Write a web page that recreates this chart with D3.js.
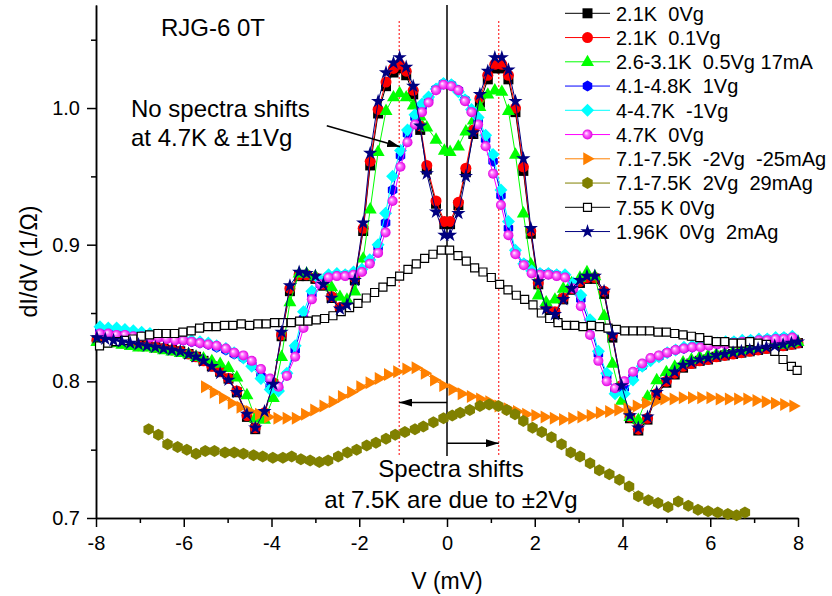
<!DOCTYPE html>
<html lang="en">
<head>
<meta charset="utf-8">
<script src="https://d3js.org/d3.v7.min.js"></script>
<style type="text/css">

body {
	margin: 0;
	background-color: #ffffff;
}

svg text {
	font-family: "Liberation Sans", Arial, sans-serif;
	fill: #000;
	white-space: pre;
}

.axis path, .axis line {
	fill: none;
	stroke: #000;
	stroke-width: 1.5px;
}

.axis text {
	font-size: 20px;
}

</style>
</head>
<body>
<script type="text/javascript">

// ---- data ----

// low temperature curves (2.1K, 2.6-3.1K, 1.96K) share one bias grid
var vMain = [-7.98, -7.79, -7.6, -7.41, -7.22, -7.03, -6.84, -6.65, -6.46, -6.27, -6.08, -5.89, -5.72, -5.55, -5.36, -5.17,
  -4.98, -4.79, -4.56, -4.37, -4.16, -3.96, -3.77, -3.58, -3.37, -3.2,
  -3.0, -2.82, -2.63, -2.44, -2.28, -2.1, -1.91, -1.75, -1.57, -1.39,
  -1.22, -1.08, -0.93, -0.77, -0.61, -0.46, -0.25, -0.06,
  0.07, 0.26, 0.43, 0.6, 0.75, 0.93, 1.09, 1.25, 1.4, 1.56,
  1.74, 1.91, 2.08, 2.26, 2.46, 2.65, 2.84, 3.03, 3.19, 3.37,
  3.58, 3.77, 3.98, 4.17, 4.36, 4.57, 4.78, 5.0, 5.19, 5.38,
  5.57, 5.76, 5.95, 6.14, 6.33, 6.52, 6.71, 6.9, 7.09, 7.28, 7.47, 7.66, 7.85, 8.0];

var gBlack = [0.830, 0.829, 0.829, 0.828, 0.827, 0.826, 0.826, 0.825, 0.824, 0.823, 0.822, 0.820, 0.818, 0.815, 0.811, 0.807,
  0.802, 0.792, 0.774, 0.765, 0.776, 0.798, 0.833, 0.866, 0.877, 0.877,
  0.875, 0.870, 0.861, 0.852, 0.855, 0.874, 0.910, 0.958, 0.996, 1.016,
  1.026, 1.029, 1.024, 1.010, 0.984, 0.955, 0.930, 0.915,
  0.915, 0.929, 0.953, 0.981, 1.004, 1.021, 1.029, 1.029, 1.021, 0.997,
  0.954, 0.908, 0.871, 0.853, 0.850, 0.860, 0.867, 0.872, 0.875, 0.875,
  0.864, 0.832, 0.796, 0.773, 0.764, 0.772, 0.790, 0.799, 0.805, 0.810,
  0.813, 0.815, 0.816, 0.818, 0.819, 0.820, 0.821, 0.822, 0.823, 0.824, 0.825, 0.826, 0.827, 0.828];

var gRed = [0.830, 0.829, 0.829, 0.828, 0.827, 0.826, 0.826, 0.825, 0.824, 0.823, 0.822, 0.820, 0.818, 0.815, 0.811, 0.807,
  0.802, 0.793, 0.775, 0.766, 0.777, 0.799, 0.834, 0.868, 0.878, 0.878,
  0.876, 0.871, 0.862, 0.854, 0.857, 0.876, 0.912, 0.961, 0.999, 1.019,
  1.029, 1.032, 1.027, 1.013, 0.987, 0.958, 0.932, 0.917,
  0.917, 0.931, 0.956, 0.984, 1.007, 1.024, 1.032, 1.032, 1.024, 1.000,
  0.957, 0.910, 0.872, 0.854, 0.851, 0.861, 0.868, 0.873, 0.876, 0.876,
  0.866, 0.834, 0.797, 0.774, 0.765, 0.773, 0.791, 0.800, 0.806, 0.811,
  0.813, 0.815, 0.816, 0.818, 0.819, 0.820, 0.821, 0.822, 0.823, 0.824, 0.825, 0.826, 0.827, 0.828];

var gGreen = [0.829, 0.828, 0.828, 0.827, 0.826, 0.825, 0.825, 0.824, 0.823, 0.822, 0.821, 0.820, 0.818, 0.817, 0.815, 0.813,
  0.810, 0.803, 0.790, 0.773, 0.772, 0.788, 0.818, 0.858, 0.879, 0.879,
  0.877, 0.873, 0.869, 0.862, 0.860, 0.866, 0.890, 0.926, 0.968, 0.998,
  1.008, 1.011, 1.008, 1.002, 0.994, 0.986, 0.977, 0.969,
  0.968, 0.972, 0.983, 0.991, 1.001, 1.010, 1.013, 1.012, 0.998, 0.966,
  0.923, 0.886, 0.863, 0.858, 0.860, 0.868, 0.872, 0.876, 0.880, 0.877,
  0.848, 0.813, 0.786, 0.774, 0.772, 0.789, 0.801, 0.807, 0.811, 0.814,
  0.816, 0.818, 0.819, 0.820, 0.821, 0.822, 0.823, 0.824, 0.825, 0.826, 0.827, 0.827, 0.828, 0.829];

var gStar = [0.832, 0.831, 0.830, 0.829, 0.828, 0.827, 0.826, 0.825, 0.824, 0.823, 0.822, 0.820, 0.818, 0.815, 0.811, 0.806,
  0.801, 0.792, 0.776, 0.766, 0.778, 0.798, 0.836, 0.870, 0.880, 0.879,
  0.877, 0.871, 0.861, 0.853, 0.856, 0.874, 0.916, 0.967, 1.005, 1.026,
  1.033, 1.037, 1.030, 1.016, 0.987, 0.952, 0.924, 0.907,
  0.907, 0.923, 0.950, 0.982, 1.010, 1.027, 1.037, 1.037, 1.028, 1.005,
  0.963, 0.912, 0.873, 0.853, 0.849, 0.860, 0.868, 0.874, 0.877, 0.877,
  0.866, 0.834, 0.797, 0.775, 0.766, 0.774, 0.792, 0.801, 0.807, 0.812,
  0.814, 0.816, 0.817, 0.819, 0.820, 0.821, 0.822, 0.823, 0.824, 0.825, 0.826, 0.827, 0.828, 0.829];

// ~4.7K curves (single zero-bias peak)
var vMid = [-7.91, -7.72, -7.53, -7.34, -7.15, -6.96, -6.77, -6.58, -6.39, -6.2, -6.01, -5.82, -5.63, -5.44, -5.25,
  -5.04, -4.85, -4.64, -4.45, -4.24, -4.03, -3.84, -3.65, -3.46, -3.27, -3.08, -2.89, -2.7, -2.51, -2.32, -2.13,
  -1.94, -1.76, -1.57, -1.4, -1.24, -1.06, -0.9, -0.73, -0.57, -0.42, -0.25, -0.08,
  0.1, 0.26, 0.41, 0.56, 0.71, 0.88, 1.05, 1.23, 1.4, 1.56,
  1.75, 1.93, 2.12, 2.31, 2.5, 2.69, 2.88, 3.05, 3.26, 3.45, 3.64, 3.83, 4.04, 4.24, 4.45, 4.64, 4.83,
  5.02, 5.21, 5.4, 5.59, 5.78, 5.97, 6.16, 6.35, 6.54, 6.73, 6.92, 7.11, 7.3, 7.49, 7.68, 7.87];

var gBlue = [0.838, 0.838, 0.837, 0.837, 0.836, 0.835, 0.834, 0.833, 0.832, 0.831, 0.830, 0.829, 0.828, 0.827, 0.825,
  0.823, 0.820, 0.817, 0.812, 0.804, 0.796, 0.794, 0.805, 0.823, 0.846, 0.864, 0.873, 0.877, 0.878, 0.878, 0.879,
  0.881, 0.888, 0.898, 0.916, 0.940, 0.965, 0.981, 0.993, 1.001, 1.007, 1.014, 1.018,
  1.017, 1.013, 1.006, 0.998, 0.991, 0.977, 0.961, 0.936, 0.912, 0.895,
  0.886, 0.880, 0.879, 0.879, 0.878, 0.877, 0.871, 0.860, 0.841, 0.820, 0.804, 0.793, 0.795, 0.803, 0.811, 0.816, 0.818,
  0.821, 0.823, 0.824, 0.825, 0.826, 0.827, 0.828, 0.828, 0.829, 0.829, 0.830, 0.830, 0.831, 0.831, 0.832, 0.832];

var gCyan = [0.840, 0.839, 0.839, 0.838, 0.837, 0.836, 0.835, 0.834, 0.833, 0.832, 0.831, 0.830, 0.829, 0.828, 0.826,
  0.824, 0.821, 0.817, 0.811, 0.802, 0.794, 0.793, 0.806, 0.826, 0.851, 0.866, 0.874, 0.878, 0.879, 0.878, 0.880,
  0.882, 0.889, 0.900, 0.923, 0.950, 0.969, 0.984, 0.995, 1.003, 1.008, 1.014, 1.018,
  1.017, 1.012, 1.006, 0.999, 0.993, 0.980, 0.966, 0.940, 0.917, 0.896,
  0.886, 0.881, 0.879, 0.879, 0.878, 0.878, 0.872, 0.863, 0.845, 0.822, 0.806, 0.791, 0.791, 0.801, 0.811, 0.815, 0.818,
  0.821, 0.823, 0.825, 0.826, 0.827, 0.827, 0.828, 0.829, 0.829, 0.830, 0.830, 0.831, 0.831, 0.832, 0.832, 0.833];

var gMagenta = [0.835, 0.835, 0.834, 0.834, 0.833, 0.833, 0.832, 0.832, 0.831, 0.830, 0.830, 0.829, 0.828, 0.827, 0.826,
  0.824, 0.821, 0.819, 0.815, 0.809, 0.802, 0.796, 0.804, 0.818, 0.839, 0.860, 0.871, 0.876, 0.877, 0.877, 0.878,
  0.880, 0.886, 0.894, 0.909, 0.932, 0.957, 0.975, 0.988, 0.997, 1.004, 1.013, 1.017,
  1.016, 1.013, 1.005, 0.997, 0.988, 0.972, 0.952, 0.929, 0.907, 0.893,
  0.885, 0.879, 0.878, 0.878, 0.877, 0.876, 0.868, 0.855, 0.834, 0.815, 0.800, 0.795, 0.800, 0.807, 0.813, 0.817, 0.819,
  0.821, 0.823, 0.824, 0.825, 0.825, 0.826, 0.827, 0.827, 0.828, 0.829, 0.829, 0.830, 0.830, 0.831, 0.831, 0.832];

// 7.1-7.5K, -2Vg
var vOrange = [-5.51, -5.31, -5.1, -4.9, -4.7, -4.49, -4.28, -4.07, -3.86, -3.65,
  -3.44, -3.23, -3.02, -2.81, -2.6, -2.39, -2.18, -1.97, -1.76, -1.55,
  -1.34, -1.13, -0.92, -0.71, -0.5, -0.29, -0.08, 0.13, 0.34, 0.55,
  0.76, 0.97, 1.18, 1.39, 1.6, 1.81, 2.02, 2.23, 2.44, 2.65,
  2.86, 3.07, 3.28, 3.49, 3.7, 3.91, 4.12, 4.33, 4.54, 4.75,
  4.96, 5.17, 5.38, 5.59, 5.8, 6.01, 6.22, 6.43, 6.64, 6.85,
  7.06, 7.27, 7.48, 7.69, 7.9];
var gOrange = [0.796, 0.792, 0.788, 0.784, 0.781, 0.778, 0.776, 0.774, 0.773, 0.773,
  0.773, 0.776, 0.779, 0.782, 0.785, 0.789, 0.792, 0.796, 0.799, 0.802,
  0.805, 0.807, 0.809, 0.810, 0.806, 0.801, 0.797, 0.794, 0.791, 0.789,
  0.787, 0.785, 0.782, 0.780, 0.778, 0.776, 0.775, 0.774, 0.773, 0.772,
  0.773, 0.774, 0.775, 0.777, 0.778, 0.779, 0.780, 0.782, 0.784, 0.785,
  0.787, 0.787, 0.788, 0.788, 0.788, 0.788, 0.787, 0.787, 0.787, 0.787,
  0.786, 0.785, 0.784, 0.783, 0.782];

// 7.1-7.5K, 2Vg
var vOlive = [-6.8, -6.58, -6.37, -6.14, -5.93, -5.72, -5.51, -5.3, -5.06, -4.85,
  -4.64, -4.41, -4.2, -3.97, -3.74, -3.54, -3.33, -3.12, -2.91, -2.71,
  -2.48, -2.27, -2.06, -1.83, -1.62, -1.39, -1.18, -0.96, -0.73, -0.54,
  -0.31, -0.08, 0.12, 0.3, 0.52, 0.75, 0.96, 1.17, 1.36, 1.55,
  1.74, 1.95, 2.16, 2.38, 2.61, 2.82, 3.03, 3.26, 3.47, 3.7,
  3.93, 4.15, 4.36, 4.59, 4.81, 5.04, 5.27, 5.5, 5.72, 5.95,
  6.17, 6.4, 6.6, 6.79];
var gOlive = [0.765, 0.761, 0.754, 0.752, 0.750, 0.747, 0.749, 0.749, 0.748, 0.748,
  0.747, 0.746, 0.745, 0.744, 0.744, 0.745, 0.743, 0.742, 0.741, 0.742,
  0.745, 0.748, 0.750, 0.753, 0.755, 0.758, 0.761, 0.763, 0.765, 0.767,
  0.770, 0.773, 0.775, 0.777, 0.779, 0.782, 0.783, 0.782, 0.779, 0.776,
  0.771, 0.766, 0.763, 0.759, 0.754, 0.748, 0.745, 0.740, 0.735, 0.732,
  0.728, 0.723, 0.716, 0.713, 0.711, 0.708, 0.712, 0.709, 0.706, 0.705,
  0.704, 0.703, 0.702, 0.704];

// 7.55K, 0Vg
var vWarm = [-7.92, -7.73, -7.54, -7.35, -7.16, -6.97, -6.78, -6.59, -6.4, -6.21,
  -6.02, -5.83, -5.64, -5.45, -5.26, -5.07, -4.88, -4.69, -4.5, -4.31,
  -4.12, -3.93, -3.74, -3.55, -3.36, -3.17, -2.98, -2.79, -2.6, -2.41,
  -2.22, -2.03, -1.84, -1.65, -1.46, -1.27, -1.08, -0.89, -0.7, -0.51,
  -0.32, -0.13, 0.06, 0.25, 0.44, 0.63, 0.82, 1.01, 1.2, 1.39,
  1.58, 1.77, 1.96, 2.15, 2.34, 2.53, 2.72, 2.91, 3.1, 3.29,
  3.48, 3.67, 3.86, 4.05, 4.24, 4.43, 4.62, 4.81, 5.0, 5.19,
  5.38, 5.57, 5.76, 5.95, 6.14, 6.33, 6.52, 6.71, 6.9, 7.09,
  7.28, 7.47, 7.66, 7.85, 7.98];
var gWarm = [0.826, 0.828, 0.829, 0.830, 0.831, 0.833, 0.834, 0.835, 0.835, 0.835,
  0.836, 0.837, 0.839, 0.840, 0.840, 0.841, 0.841, 0.842, 0.841, 0.842,
  0.842, 0.843, 0.843, 0.843, 0.844, 0.844, 0.845, 0.846, 0.848, 0.851,
  0.854, 0.857, 0.861, 0.865, 0.869, 0.873, 0.877, 0.882, 0.886, 0.890,
  0.893, 0.896, 0.896, 0.892, 0.888, 0.883, 0.880, 0.876, 0.871, 0.867,
  0.863, 0.860, 0.856, 0.850, 0.846, 0.843, 0.841, 0.841, 0.840, 0.841,
  0.840, 0.839, 0.838, 0.837, 0.837, 0.837, 0.837, 0.836, 0.836, 0.835,
  0.834, 0.833, 0.832, 0.830, 0.829, 0.829, 0.828, 0.828, 0.829, 0.828,
  0.827, 0.822, 0.816, 0.811, 0.808];

var legendLabels = ["2.1K  0Vg", "2.1K  0.1Vg", "2.6-3.1K  0.5Vg 17mA", "4.1-4.8K  1Vg", "4-4.7K  -1Vg",
  "4.7K  0Vg", "7.1-7.5K  -2Vg  -25mAg", "7.1-7.5K  2Vg  29mAg", "7.55 K 0Vg", "1.96K  0Vg  2mAg"];

var xMajor = [-8, -6, -4, -2, 0, 2, 4, 6, 8];
var xMinor = [-7, -5, -3, -1, 1, 3, 5, 7];
var yMajor = [0.7, 0.8, 0.9, 1.0];
var yMinor = [0.75, 0.85, 0.95, 1.05];

// annotation anchors (data units)
var shiftMarks = [-1.09, 1.18];

// ---- chart ----

var width = 832;
var height = 596;

var x = d3.scaleLinear().domain([-8, 8]).range([96, 798]);
var y = d3.scaleLinear().domain([0.7, 1.0754]).range([518, 5]);

var series = [
  {v: vMain, g: gBlack,   color: "#000000", shape: "square",   size: 10},
  {v: vMain, g: gRed,     color: "#ff0000", shape: "circle",   size: 11},
  {v: vMain, g: gGreen,   color: "#00ff00", shape: "triUp",    size: 13},
  {v: vMid,  g: gBlue,    color: "#0000ff", shape: "hex",      size: 11},
  {v: vMid,  g: gCyan,    color: "#00ffff", shape: "diamond",  size: 13},
  {v: vMid,  g: gMagenta, color: "#ff00ff", shape: "sphere",   size: 10},
  {v: vOrange, g: gOrange, color: "#ff8000", shape: "triRight", size: 13},
  {v: vOlive,  g: gOlive,  color: "#808000", shape: "hex",      size: 12},
  {v: vWarm,   g: gWarm,   color: "#000000", shape: "open",     size: 8},
  {v: vMain, g: gStar,    color: "#000080", shape: "star",     size: 15}
];

series.forEach(function(s, i) {
  if (s.v.length !== s.g.length) throw new Error("series " + i + ": " + s.v.length + " vs " + s.g.length);
});

function poly(pts) {
  return "M" + pts.map(function(p) { return p[0].toFixed(2) + "," + p[1].toFixed(2); }).join("L") + "Z";
}

// marker outline centred on 0,0; s is the marker width in px
function shapePath(shape, s) {
  var h = s / 2;
  if (shape === "square" || shape === "open") return poly([[-h, -h], [h, -h], [h, h], [-h, h]]);
  if (shape === "circle" || shape === "sphere") return d3.symbol().type(d3.symbolCircle).size(Math.PI * h * h)();
  if (shape === "triUp") return poly([[0, -h * 1.1], [h, h * 0.65], [-h, h * 0.65]]);
  if (shape === "triRight") return poly([[h * 1.1, 0], [-h * 0.65, -h], [-h * 0.65, h]]);
  if (shape === "diamond") return poly([[0, -h], [h, 0], [0, h], [-h, 0]]);
  if (shape === "hex") {
    var pts = [];
    for (var k = 0; k < 6; k++) {
      var a = Math.PI / 180 * (60 * k - 90);
      pts.push([h * Math.cos(a), h * Math.sin(a)]);
    }
    return poly(pts);
  }
  if (shape === "star") return d3.symbol().type(d3.symbolStar).size(h * h / 0.8908)();
}

function drawMarker(sel, s) {
  sel.attr("d", shapePath(s.shape, s.size))
    .attr("fill", function() {
      if (s.shape === "open") return "#ffffff";
      if (s.shape === "sphere") return "url(#sphere)";
      return s.color;
    })
    .attr("stroke", s.shape === "open" ? "#000" : "none")
    .attr("stroke-width", 1.2);
}

var svg = d3.select("body")
  .append("svg")
  .attr("width", width)
  .attr("height", height);

var defs = svg.append("defs");

var grad = defs.append("radialGradient")
  .attr("id", "sphere")
  .attr("cx", "50%").attr("cy", "50%").attr("r", "50%")
  .attr("fx", "35%").attr("fy", "35%");
grad.append("stop").attr("offset", "0%").attr("stop-color", "#ffffff");
grad.append("stop").attr("offset", "40%").attr("stop-color", "#ff70ff");
grad.append("stop").attr("offset", "100%").attr("stop-color", "#e000e0");

defs.append("marker")
  .attr("id", "arrowHead")
  .attr("markerUnits", "userSpaceOnUse")
  .attr("viewBox", "0 0 13 8")
  .attr("refX", 13).attr("refY", 4)
  .attr("markerWidth", 13).attr("markerHeight", 8)
  .attr("orient", "auto")
  .append("path")
  .attr("d", "M0,0L13,4L0,8Z")
  .attr("fill", "#000");

// axes
svg.append("g")
  .attr("class", "x axis")
  .attr("transform", "translate(0," + y(0.7) + ")")
  .call(d3.axisBottom(x).tickValues(xMinor).tickSize(5).tickSizeOuter(0).tickFormat(""));

svg.append("g")
  .attr("class", "x axis")
  .attr("transform", "translate(0," + y(0.7) + ")")
  .call(d3.axisBottom(x).tickValues(xMajor).tickSize(9).tickSizeOuter(0).tickPadding(9)
    .tickFormat(function(d) { return String(d); }));

svg.append("g")
  .attr("class", "y axis")
  .attr("transform", "translate(" + x(-8) + ",0)")
  .call(d3.axisLeft(y).tickValues(yMinor).tickSize(5).tickSizeOuter(0).tickFormat(""));

svg.append("g")
  .attr("class", "y axis")
  .attr("transform", "translate(" + x(-8) + ",0)")
  .call(d3.axisLeft(y).tickValues(yMajor).tickSize(9).tickSizeOuter(0).tickPadding(7)
    .tickFormat(function(d) { return d.toFixed(1); }));

svg.append("text")
  .attr("transform", "translate(37," + ((y(0.7) + y(1.0754)) / 2) + ") rotate(-90)")
  .style("text-anchor", "middle")
  .style("font-size", "23px")
  .text("dI/dV (1/Ω)");

svg.append("text")
  .attr("x", x(0))
  .attr("y", 589)
  .style("text-anchor", "middle")
  .style("font-size", "23px")
  .text("V (mV)");

// guide lines
svg.append("line")
  .attr("x1", x(0)).attr("x2", x(0))
  .attr("y1", 5).attr("y2", 456)
  .attr("stroke", "#000").attr("stroke-width", 1.5);

svg.selectAll("line.mark")
  .data(shiftMarks)
  .enter().append("line")
  .attr("class", "mark")
  .attr("x1", function(d) { return x(d); }).attr("x2", function(d) { return x(d); })
  .attr("y1", 21).attr("y2", 456)
  .attr("stroke", "#ff0000").attr("stroke-width", 1)
  .attr("stroke-dasharray", "2,2");

// curves
var line = d3.line()
  .x(function(d) { return x(d[0]); })
  .y(function(d) { return y(d[1]); });

series.forEach(function(s) {
  var pts = s.v.map(function(v, i) { return [v, s.g[i]]; });
  var g = svg.append("g");
  g.append("path")
    .datum(pts)
    .attr("d", line)
    .attr("fill", "none")
    .attr("stroke", s.color)
    .attr("stroke-width", 1);
  g.selectAll("path.pt")
    .data(pts)
    .enter().append("path")
    .attr("class", "pt")
    .attr("transform", function(d) { return "translate(" + x(d[0]) + "," + y(d[1]) + ")"; })
    .call(drawMarker, s);
});

// arrows
svg.append("line")
  .attr("x1", x(-2.74)).attr("y1", y(0.987))
  .attr("x2", x(-1.07)).attr("y2", y(0.9717))
  .attr("stroke", "#000").attr("stroke-width", 1.5)
  .attr("marker-end", "url(#arrowHead)");

svg.append("line")
  .attr("x1", x(0)).attr("y1", y(0.7845))
  .attr("x2", x(shiftMarks[0])).attr("y2", y(0.7845))
  .attr("stroke", "#000").attr("stroke-width", 1.5)
  .attr("marker-end", "url(#arrowHead)");

svg.append("line")
  .attr("x1", x(0)).attr("y1", y(0.7547))
  .attr("x2", x(shiftMarks[1])).attr("y2", y(0.7547))
  .attr("stroke", "#000").attr("stroke-width", 1.5)
  .attr("marker-end", "url(#arrowHead)");

// notes
svg.append("text").attr("x", 161).attr("y", 36).style("font-size", "24px").text("RJG-6 0T");
svg.append("text").attr("x", 131).attr("y", 117).style("font-size", "24px").text("No spectra shifts");
svg.append("text").attr("x", 131).attr("y", 146).style("font-size", "24px").text("at 4.7K & ±1Vg");
svg.append("text").attr("x", 451).attr("y", 477).style("font-size", "24px").style("text-anchor", "middle").text("Spectra shifts");
svg.append("text").attr("x", 451).attr("y", 508).style("font-size", "24px").style("text-anchor", "middle").text("at 7.5K are due to ±2Vg");

// legend
var legend = svg.append("g").attr("class", "legend");
series.forEach(function(s, i) {
  var row = legend.append("g").attr("transform", "translate(0," + (13.3 + i * 24.25) + ")");
  row.append("line")
    .attr("x1", 565).attr("x2", 610)
    .attr("stroke", s.color).attr("stroke-width", 1);
  row.append("path")
    .attr("transform", "translate(587.5,0)")
    .call(drawMarker, s);
  row.append("text")
    .attr("x", 616)
    .attr("dy", "0.36em")
    .style("font-size", "20px")
    .text(legendLabels[i]);
});

</script>
</body>
</html>
